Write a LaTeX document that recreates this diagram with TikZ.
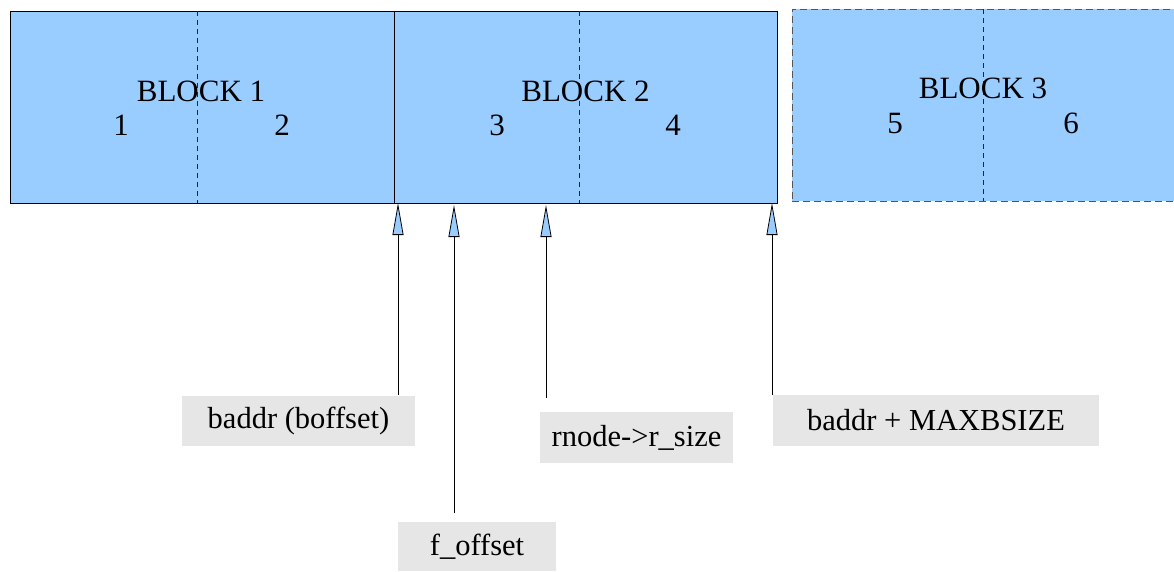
\documentclass[tikz,border=0pt]{standalone}
\usepackage{fontspec}
\setmainfont{Liberation Serif}
\usetikzlibrary{arrows.meta}
\definecolor{blockblue}{HTML}{99CCFF}
\definecolor{labelgray}{HTML}{E6E6E6}
\definecolor{bordergray}{HTML}{555555}
\tikzset{
  blockbox/.style={draw=black, line width=0.9pt, fill=blockblue, inner sep=0pt},
  spare/.style={draw=bordergray, line width=0.9pt, dash pattern=on 7pt off 4pt, fill=blockblue, inner sep=0pt},
  split/.style={draw=black!85, line width=0.8pt, dash pattern=on 5pt off 4pt},
  txt/.style={font=\fontsize{31}{36}\selectfont, anchor=base, inner sep=0pt},
  tag/.style={fill=labelgray, inner sep=0pt, font=\fontsize{30.5}{36}\selectfont},
  ptr/.style={draw=black, line width=0.9pt,
    -{Triangle[length=32pt, width=11pt, fill=blockblue, line width=0.8pt]}}
}
\begin{document}
\begin{tikzpicture}[x=1pt, y=-1pt]
\useasboundingbox (0,0) rectangle (1174,571);

% memory blocks
\node[blockbox, minimum width=384pt, minimum height=192pt] (b1) at (202,107) {};
\node[blockbox, minimum width=383pt, minimum height=192pt] (b2) at (585.5,107) {};
\node[spare, minimum width=390pt, minimum height=192pt] (b3) at (987,105) {};

% half-block boundaries
\draw[split] (197,11) -- (197,203);
\draw[split] (579,11) -- (579,203);
\draw[split] (983,9) -- (983,201);

% block titles and half numbers
\node[txt] (t1) at (201,101) {BLOCK 1};
\node[txt] (t2) at (585.5,101) {BLOCK 2};
\node[txt] (t3) at (983,98) {BLOCK 3};
\node[txt] (n1) at (121,135) {1};
\node[txt] (n2) at (282,135) {2};
\node[txt] (n3) at (497,135) {3};
\node[txt] (n4) at (673,135) {4};
\node[txt] (n5) at (895,133) {5};
\node[txt] (n6) at (1071,133) {6};

% pointer labels
\node[tag, minimum width=233pt, minimum height=50pt] (baddr) at (298.5,421) {baddr (boffset)};
\node[tag, minimum width=193pt, minimum height=51pt] (rsize) at (636.5,437.5) {rnode->r\_size};
\node[tag, minimum width=326pt, minimum height=51pt] (maxb) at (936,420.5) {baddr + MAXBSIZE};
\node[tag, minimum width=158pt, minimum height=49pt] (foff) at (477,546.5) {f\_offset};

% pointer ends on the block edge and at the label side
\coordinate (p1) at (398,203);
\coordinate (p2) at (454,205);
\coordinate (p3) at (546,205);
\coordinate (p4) at (772,203);
\coordinate (f1) at (398,395);
\coordinate (f2) at (454,513);
\coordinate (f3) at (546,398);
\coordinate (f4) at (772,395);

\draw[ptr] (f1) -- (p1);
\draw[ptr] (f2) -- (p2);
\draw[ptr] (f3) -- (p3);
\draw[ptr] (f4) -- (p4);
\end{tikzpicture}
\end{document}
